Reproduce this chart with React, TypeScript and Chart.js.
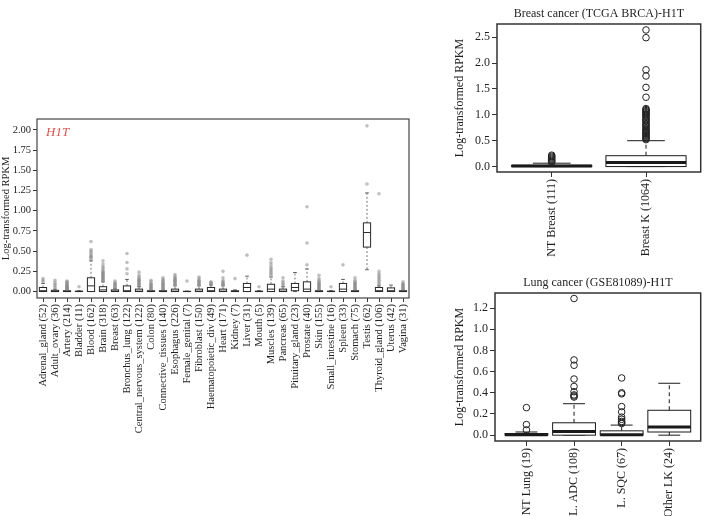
import React, { useEffect, useRef } from "react";
import { Chart, registerables } from "chart.js";

Chart.register(...registerables);

const SERIF = "'Liberation Serif', 'Times New Roman', Times, serif";
const INK = "#1f1f1f";

// ---- Normal tissues (GTEx panel) ----
const tissueLabels = [
  "Adrenal_gland (52)", "Adult_ovary (36)", "Artery (214)", "Bladder (11)", "Blood (162)",
  "Brain (318)", "Breast (63)", "Bronchus_lung (122)", "Central_nervous_system (122)", "Colon (80)",
  "Connective_tissues (140)", "Esophagus (226)", "Female_genital (7)", "Fibroblast (150)",
  "Haematopoietic_div (49)", "Heart (171)", "Kidney (7)", "Liver (31)", "Mouth (5)", "Muscles (139)",
  "Pancreas (65)", "Pituitary_gland (23)", "Prostate (40)", "Skin (155)", "Small_intestine (16)",
  "Spleen (33)", "Stomach (75)", "Testis (62)", "Thyroid_gland (106)", "Uterus (42)", "Vagina (31)",
];
const tissueLow = [0, 0, 0, 0, 0, 0, 0, 0, 0, 0, 0, 0, 0, 0, 0, 0, 0, 0, 0, 0, 0, 0, 0, 0, 0, 0, 0, 0.27, 0, 0, 0];
const tissueQ1 = [0, 0, 0, 0, 0, 0, 0, 0, 0, 0, 0, 0, 0, 0, 0, 0, 0, 0, 0, 0, 0, 0.01, 0, 0, 0, 0, 0, 0.55, 0, 0, 0];
const tissueMedian = [0.01, 0, 0, 0, 0.07, 0.02, 0.005, 0.01, 0.005, 0, 0, 0.005, 0, 0.005, 0.01, 0.005, 0, 0.05, 0, 0.03, 0.005, 0.05, 0.03, 0, 0, 0.03, 0, 0.73, 0.01, 0.01, 0];
const tissueQ3 = [0.05, 0.015, 0.01, 0.005, 0.17, 0.06, 0.02, 0.07, 0.03, 0.01, 0.01, 0.03, 0.003, 0.03, 0.05, 0.03, 0.01, 0.1, 0.005, 0.09, 0.03, 0.1, 0.12, 0.01, 0.005, 0.1, 0.01, 0.85, 0.05, 0.045, 0.01];
const tissueHigh = [0.1, 0.03, 0.02, 0.01, 0.38, 0.12, 0.04, 0.15, 0.06, 0.02, 0.02, 0.07, 0.005, 0.07, 0.08, 0.07, 0.02, 0.19, 0.01, 0.18, 0.06, 0.235, 0.28, 0.02, 0.01, 0.15, 0.02, 1.22, 0.07, 0.08, 0.02];
const tissueOutliers = [
  [0.12, 0.14, 0.16],
  [0.05, 0.07, 0.09, 0.11, 0.14],
  [0.03, 0.035, 0.04, 0.045, 0.05, 0.06, 0.065, 0.07, 0.08, 0.09, 0.1, 0.11, 0.12, 0.13],
  [0.06],
  [0.4, 0.42, 0.43, 0.44, 0.46, 0.48, 0.5, 0.52, 0.62],
  [0.13, 0.14, 0.15, 0.16, 0.17, 0.18, 0.19, 0.2, 0.21, 0.22, 0.23, 0.24, 0.25, 0.27, 0.29, 0.31, 0.34, 0.38],
  [0.05, 0.06, 0.07, 0.08, 0.09, 0.1, 0.11, 0.13],
  [0.22, 0.28, 0.36, 0.47],
  [0.07, 0.08, 0.09, 0.1, 0.11, 0.12, 0.13, 0.14, 0.15, 0.16, 0.18, 0.2, 0.24],
  [0.03, 0.04, 0.05, 0.06, 0.07, 0.08, 0.09, 0.1, 0.12, 0.14],
  [0.03, 0.04, 0.05, 0.06, 0.07, 0.08, 0.09, 0.1, 0.11, 0.12, 0.14, 0.15, 0.17],
  [0.08, 0.09, 0.1, 0.11, 0.12, 0.13, 0.14, 0.15, 0.16, 0.17, 0.19, 0.21],
  [0.13],
  [0.08, 0.09, 0.1, 0.11, 0.12, 0.13, 0.14, 0.16, 0.18],
  [0.09, 0.1, 0.11, 0.12],
  [0.08, 0.09, 0.1, 0.11, 0.12, 0.14, 0.17, 0.25],
  [0.16],
  [0.45],
  [0.06],
  [0.2, 0.22, 0.24, 0.26, 0.28, 0.3, 0.33, 0.36, 0.4],
  [0.07, 0.09, 0.11, 0.13, 0.17],
  [],
  [0.33, 0.6, 1.05],
  [0.03, 0.04, 0.05, 0.06, 0.07, 0.08, 0.09, 0.1, 0.11, 0.12, 0.14, 0.16, 0.2],
  [0.06],
  [0.33],
  [0.03, 0.04, 0.05, 0.06, 0.07, 0.08, 0.09, 0.1, 0.11, 0.12, 0.14, 0.17],
  [1.33, 2.05],
  [0.08, 0.1, 0.12, 0.14, 0.16, 0.18, 0.2, 0.22, 0.25, 1.21],
  [],
  [0.03, 0.04, 0.05, 0.06, 0.07, 0.08, 0.09, 0.1, 0.12],
];
const tissueTicks = [0, 0.25, 0.5, 0.75, 1, 1.25, 1.5, 1.75, 2];

// ---- Breast cancer (TCGA BRCA) ----
const breastLabels = ["NT Breast (111)", "Breast K (1064)"];
const breastLow = [0, 0];
const breastQ1 = [0, 0];
const breastMedian = [0.01, 0.08];
const breastQ3 = [0.025, 0.21];
const breastHigh = [0.065, 0.5];
const breastOutliers = [
  [0.08, 0.1, 0.12, 0.14, 0.16, 0.18, 0.2, 0.22],
  [0.52, 0.54, 0.56, 0.58, 0.6, 0.62, 0.64, 0.66, 0.68, 0.7, 0.72, 0.75, 0.78, 0.8, 0.82, 0.85, 0.88,
    0.9, 0.92, 0.95, 0.98, 1.0, 1.02, 1.04, 1.06, 1.08, 1.1, 1.12, 1.34, 1.53, 1.75, 1.87, 2.49, 2.64],
];
const breastTicks = [0, 0.5, 1, 1.5, 2, 2.5];

// ---- Lung cancer (GSE81089) ----
const lungLabels = ["NT Lung (19)", "L. ADC (108)", "L. SQC (67)", "Other LK (24)"];
const lungLow = [0, 0, 0, 0];
const lungQ1 = [0, 0, 0, 0.03];
const lungMedian = [0.005, 0.035, 0.005, 0.076];
const lungQ3 = [0.015, 0.117, 0.041, 0.235];
const lungHigh = [0.03, 0.297, 0.095, 0.49];
const lungOutliers = [
  [0.05, 0.1, 0.26],
  [0.36, 0.37, 0.38, 0.41, 0.46, 0.53, 0.66, 0.71, 1.29],
  [0.11, 0.12, 0.13, 0.15, 0.17, 0.22, 0.27, 0.39, 0.4, 0.54],
  [],
];
const lungTicks = [0, 0.2, 0.4, 0.6, 0.8, 1.0, 1.2];

interface BoxStats {
  labels: string[];
  low: number[];
  q1: number[];
  median: number[];
  q3: number[];
  high: number[];
  outliers: number[][];
}

interface PanelOpts {
  xMin: number; xMax: number; yMin: number; yMax: number;
  yTicks: number[]; decimals: number;
  yWidth: number; xHeight: number; padTop: number; padRight: number;
  fontSize: number; yTitlePad: number;
  boxWidth: number; capWidth: number; boxLineWidth: number; medianWidth: number;
  boxColor: string; whiskerColor: string; capColor: string; whiskerDash: number[];
  frameColor: string; frameWidth: number;
  pointRadius: number; pointFill: string; pointStroke: string; pointStrokeWidth: number;
  tickLength: number;
  title?: string; titleY?: number; titleSize?: number;
  tag?: string;
}

function boxPlugin(stats: BoxStats, o: PanelOpts) {
  return {
    id: "boxplot",
    beforeDatasetsDraw(chart: any) {
      const { ctx } = chart;
      const x = chart.scales.x;
      const y = chart.scales.y;
      const seg = (x1: number, y1: number, x2: number, y2: number) => {
        ctx.beginPath();
        ctx.moveTo(x1, y1);
        ctx.lineTo(x2, y2);
        ctx.stroke();
      };
      ctx.save();
      stats.labels.forEach((_, i) => {
        const p = i + 1;
        const xc = x.getPixelForValue(p);
        const bl = x.getPixelForValue(p - o.boxWidth / 2);
        const br = x.getPixelForValue(p + o.boxWidth / 2);
        const cl = x.getPixelForValue(p - o.capWidth / 2);
        const cr = x.getPixelForValue(p + o.capWidth / 2);
        const yLo = y.getPixelForValue(stats.low[i]);
        const yQ1 = y.getPixelForValue(stats.q1[i]);
        const yMed = y.getPixelForValue(stats.median[i]);
        const yQ3 = y.getPixelForValue(stats.q3[i]);
        const yHi = y.getPixelForValue(stats.high[i]);
        // whiskers
        ctx.lineWidth = 1;
        ctx.strokeStyle = o.whiskerColor;
        ctx.setLineDash(o.whiskerDash);
        seg(xc, yQ3, xc, yHi);
        seg(xc, yQ1, xc, yLo);
        ctx.setLineDash([]);
        // staples
        ctx.strokeStyle = o.capColor;
        seg(cl, yHi, cr, yHi);
        seg(cl, yLo, cr, yLo);
        // box
        ctx.fillStyle = "#ffffff";
        ctx.fillRect(bl, yQ3, br - bl, yQ1 - yQ3);
        ctx.strokeStyle = o.boxColor;
        ctx.lineWidth = o.boxLineWidth;
        ctx.strokeRect(bl, yQ3, br - bl, yQ1 - yQ3);
        // median
        ctx.lineWidth = o.medianWidth;
        seg(bl, yMed, br, yMed);
      });
      ctx.restore();
    },
    afterDraw(chart: any) {
      const { ctx, chartArea: a } = chart;
      ctx.save();
      ctx.strokeStyle = o.frameColor;
      ctx.lineWidth = o.frameWidth;
      ctx.strokeRect(a.left, a.top, a.right - a.left, a.bottom - a.top);
      if (o.title) {
        ctx.font = `${o.titleSize}px ${SERIF}`;
        ctx.fillStyle = INK;
        ctx.textAlign = "center";
        ctx.textBaseline = "middle";
        ctx.fillText(o.title, (a.left + a.right) / 2, o.titleY);
      }
      if (o.tag) {
        ctx.font = `italic 13px ${SERIF}`;
        ctx.fillStyle = "#d9534f";
        ctx.textAlign = "left";
        ctx.textBaseline = "middle";
        ctx.fillText(o.tag, a.left + 9, a.top + 14);
      }
      ctx.restore();
    },
  };
}

function buildConfig(stats: BoxStats, o: PanelOpts): any {
  const font = { family: SERIF, size: o.fontSize };
  const points = stats.outliers.flatMap((vals, i) => vals.map((v) => ({ x: i + 1, y: v })));
  const grid = {
    display: true,
    drawOnChartArea: false,
    drawTicks: true,
    tickLength: o.tickLength,
    tickColor: "#333333",
    tickWidth: 1,
  };
  return {
    type: "scatter",
    data: {
      datasets: [
        {
          label: "outliers",
          data: points,
          pointRadius: o.pointRadius,
          pointBackgroundColor: o.pointFill,
          pointBorderColor: o.pointStroke,
          pointBorderWidth: o.pointStrokeWidth,
          pointHoverRadius: o.pointRadius,
        },
      ],
    },
    options: {
      responsive: false,
      animation: false,
      devicePixelRatio: 1,
      events: [],
      layout: { padding: { top: o.padTop, right: o.padRight, left: 0, bottom: 0 } },
      plugins: { legend: { display: false }, tooltip: { enabled: false }, title: { display: false } },
      scales: {
        x: {
          type: "linear",
          min: o.xMin,
          max: o.xMax,
          afterBuildTicks: (s: any) => {
            s.ticks = stats.labels.map((_, i) => ({ value: i + 1 }));
          },
          afterFit: (s: any) => {
            s.height = o.xHeight;
          },
          ticks: {
            autoSkip: false,
            minRotation: 90,
            maxRotation: 90,
            padding: 2,
            color: INK,
            font,
            callback: (v: number) => stats.labels[Math.round(v) - 1] ?? "",
          },
          grid,
          border: { display: false },
        },
        y: {
          type: "linear",
          min: o.yMin,
          max: o.yMax,
          afterBuildTicks: (s: any) => {
            s.ticks = o.yTicks.map((v) => ({ value: v }));
          },
          afterFit: (s: any) => {
            s.width = o.yWidth;
          },
          ticks: {
            padding: 2,
            color: INK,
            font,
            callback: (v: number) => Number(v).toFixed(o.decimals),
          },
          grid,
          border: { display: false },
          title: {
            display: true,
            text: "Log-transformed RPKM",
            color: INK,
            font,
            padding: { top: o.yTitlePad, bottom: 0 },
          },
        },
      },
    },
    plugins: [boxPlugin(stats, o)],
  };
}

const tissueStats: BoxStats = {
  labels: tissueLabels, low: tissueLow, q1: tissueQ1, median: tissueMedian,
  q3: tissueQ3, high: tissueHigh, outliers: tissueOutliers,
};
const breastStats: BoxStats = {
  labels: breastLabels, low: breastLow, q1: breastQ1, median: breastMedian,
  q3: breastQ3, high: breastHigh, outliers: breastOutliers,
};
const lungStats: BoxStats = {
  labels: lungLabels, low: lungLow, q1: lungQ1, median: lungMedian,
  q3: lungQ3, high: lungHigh, outliers: lungOutliers,
};

const tissueOpts: PanelOpts = {
  xMin: 0.5, xMax: 31.5, yMin: -0.08, yMax: 2.135,
  yTicks: tissueTicks, decimals: 2,
  yWidth: 37, xHeight: 218, padTop: 19, padRight: 11,
  fontSize: 10.5, yTitlePad: 0,
  boxWidth: 0.6, capWidth: 0.3, boxLineWidth: 1, medianWidth: 1,
  boxColor: "#2a2a2a", whiskerColor: "#777777", capColor: "#555555", whiskerDash: [2, 2],
  frameColor: "#444444", frameWidth: 1.2,
  pointRadius: 1.8, pointFill: "rgba(140,140,140,0.55)", pointStroke: "rgba(0,0,0,0)", pointStrokeWidth: 0,
  tickLength: 4,
  tag: "H1T",
};

const breastOpts: PanelOpts = {
  xMin: 0.42, xMax: 2.58, yMin: -0.105, yMax: 2.755,
  yTicks: breastTicks, decimals: 1,
  yWidth: 47, xHeight: 98, padTop: 24, padRight: 3,
  fontSize: 12, yTitlePad: 3,
  boxWidth: 0.85, capWidth: 0.4, boxLineWidth: 1, medianWidth: 3,
  boxColor: "#1a1a1a", whiskerColor: "#1a1a1a", capColor: "#1a1a1a", whiskerDash: [4, 3],
  frameColor: "#333333", frameWidth: 1.5,
  pointRadius: 3.3, pointFill: "rgba(0,0,0,0)", pointStroke: "#222222", pointStrokeWidth: 1,
  tickLength: 5,
  title: "Breast cancer (TCGA BRCA)-H1T", titleY: 14, titleSize: 12,
};

const lungOpts: PanelOpts = {
  xMin: 0.34, xMax: 4.66, yMin: -0.055, yMax: 1.342,
  yTicks: lungTicks, decimals: 1,
  yWidth: 45, xHeight: 75, padTop: 23, padRight: 4,
  fontSize: 12, yTitlePad: 3,
  boxWidth: 0.9, capWidth: 0.46, boxLineWidth: 1, medianWidth: 3,
  boxColor: "#1a1a1a", whiskerColor: "#1a1a1a", capColor: "#1a1a1a", whiskerDash: [4, 3],
  frameColor: "#333333", frameWidth: 1.5,
  pointRadius: 3.3, pointFill: "rgba(0,0,0,0)", pointStroke: "#222222", pointStrokeWidth: 1,
  tickLength: 5,
  title: "Lung cancer (GSE81089)-H1T", titleY: 13, titleSize: 12,
};

function BoxPanel(props: { left: number; top: number; width: number; height: number; stats: BoxStats; opts: PanelOpts }) {
  const ref = useRef<HTMLCanvasElement | null>(null);
  useEffect(() => {
    if (!ref.current) return;
    const chart = new Chart(ref.current, buildConfig(props.stats, props.opts));
    return () => chart.destroy();
  }, []);
  return (
    <canvas
      ref={ref}
      width={props.width}
      height={props.height}
      style={{ position: "absolute", left: props.left, top: props.top, width: props.width, height: props.height }}
    />
  );
}

export default function App() {
  return (
    <div style={{ position: "fixed", left: 0, top: 0, width: 705, height: 516, background: "#ffffff", overflow: "hidden" }}>
      <BoxPanel left={0} top={100} width={420} height={416} stats={tissueStats} opts={tissueOpts} />
      <BoxPanel left={450} top={0} width={255} height={270} stats={breastStats} opts={breastOpts} />
      <BoxPanel left={450} top={270} width={255} height={246} stats={lungStats} opts={lungOpts} />
    </div>
  );
}
